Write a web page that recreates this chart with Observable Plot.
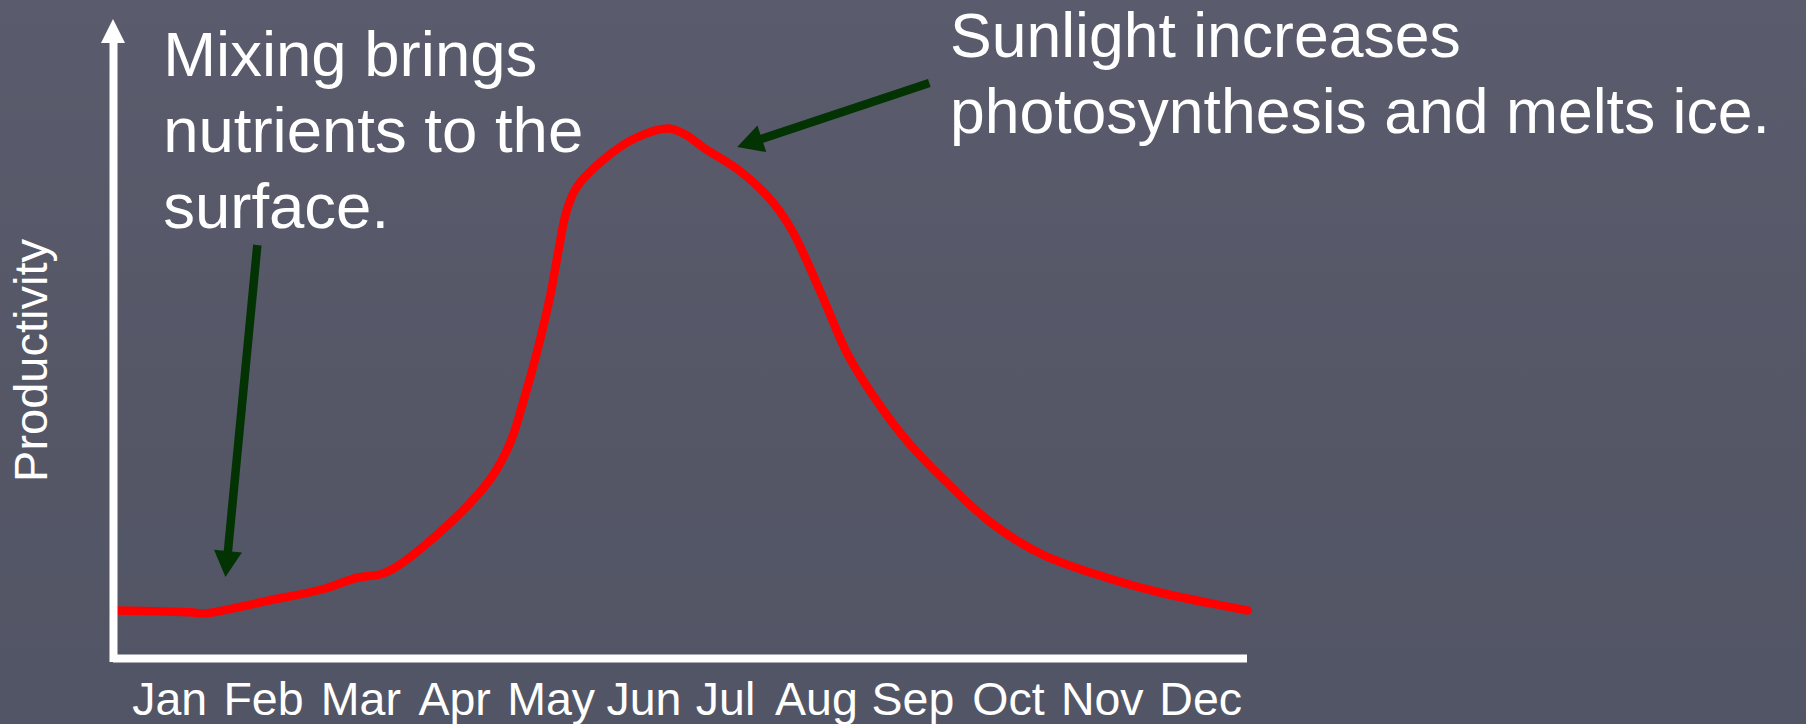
<!DOCTYPE html>
<html>
<head>
<meta charset="utf-8">
<script src="https://cdn.jsdelivr.net/npm/d3@7"></script>
<script src="https://cdn.jsdelivr.net/npm/@observablehq/plot@0.6"></script>
<style>
  html, body { margin: 0; padding: 0; width: 1806px; height: 724px; overflow: hidden;
    background: linear-gradient(180deg, #5a5b6c 0%, #555767 55%, #525565 100%); }
  #chart svg { display: block; }
</style>
</head>
<body>
<div id="chart"></div>
<script>
// ---- data ----
const months = ["Jan", "Feb", "Mar", "Apr", "May", "Jun", "Jul", "Aug", "Sep", "Oct", "Nov", "Dec"];
// where each month label sits along the axis (0 = Jan)
const monthPos = [0, 1.0, 2.04, 3.04, 4.07, 5.06, 5.93, 6.9, 7.93, 8.95, 9.95, 11.0];
const xExtent = [-0.6, 11.5];          // month-position extent of the axes
const yExtent = [0, 130];              // productivity (arbitrary units)

// productivity curve: position along the year (0 = Jan) and productivity
const curveX = [-0.6, 0.25, 0.36, 1.06, 1.62, 2.01, 2.24, 2.39, 2.72, 3.20, 3.44, 3.63, 3.77, 3.92,
  4.06, 4.15, 4.23, 4.34, 4.63, 4.96, 5.32, 5.50, 5.71, 6.09, 6.41, 6.64, 6.96, 7.24, 7.57, 7.89,
  8.27, 8.76, 9.31, 10.06, 10.61, 11.5];
const productivity = [9.6, 9.2, 9.0, 11.6, 13.8, 16.2, 16.8, 18.0, 22.6, 31.0, 36.4, 43.0, 51.2, 61.4,
  72.6, 81.8, 89.2, 94.2, 99.8, 104.0, 106.0, 104.8, 102.0, 97.4, 91.8, 85.6, 72.6, 60.6, 50.8, 43.0,
  35.6, 27.2, 20.8, 15.8, 13.0, 9.6];

// annotations
const noteText = ["Mixing brings\nnutrients to the\nsurface.", "Sunlight increases\nphotosynthesis and melts ice."];
const noteX = [-0.07, 8.325];
const noteY = [86.2, 105.2];
const noteSize = [63.5, 62.5];

// annotation arrows (from -> to), in month-position / productivity units
const arrowFromX = [0.94, 8.11];
const arrowFromY = [82.6, 115.0];
const arrowToX = [0.60, 6.06];
const arrowToY = [16.2, 102.2];

const yAxisTop = 127.8;
const yLabel = "Productivity";

// ---- chart ----
const curve = curveX.map((x, i) => ({x, y: productivity[i]}));
const notes = noteText.map((t, i) => ({t, x: noteX[i], y: noteY[i], s: noteSize[i]}));
const font = "'Liberation Sans', Arial, Helvetica, sans-serif";

const plot = Plot.plot({
  width: 1806,
  height: 724,
  marginLeft: 113,
  marginRight: 559,
  marginTop: 8,
  marginBottom: 66,
  style: {background: "transparent", color: "white", fontFamily: font, overflow: "visible"},
  x: {domain: xExtent},
  y: {domain: yExtent, axis: null},
  marks: [
    Plot.axisX(monthPos, {tickFormat: (p) => months[monthPos.indexOf(p)], tickSize: 0, tickPadding: 23,
      fontSize: 46.5, fill: "white", label: null}),
    Plot.line(curve, {x: "x", y: "y", stroke: "#ff0000", strokeWidth: 8.5,
      curve: "catmull-rom", strokeLinejoin: "round"}),
    Plot.ruleY([0], {x1: xExtent[0], x2: xExtent[1], stroke: "white", strokeWidth: 8}),
    Plot.ruleX([xExtent[0]], {y1: -0.8, y2: 123.5, stroke: "white", strokeWidth: 8}),
    ...notes.map((n) => Plot.text([n], {x: "x", y: "y", text: "t", textAnchor: "start", lineAnchor: "bottom",
      lineHeight: 76 / n.s, fontSize: n.s, fill: "white"})),
    Plot.text([yLabel], {x: -1.475, y: 59.6, text: (d) => d, rotate: -90, fontSize: 47, fill: "white"})
  ]
});

document.getElementById("chart").appendChild(plot);

// filled arrow heads + shafts, positioned through the plot's own scales
const sx = plot.scale("x"), sy = plot.scale("y");
const svg = d3.select(plot);
const g = svg.append("g");

function drawArrow(x1, y1, x2, y2, color, shaftW, headLen, headW, drawShaft) {
  const ax = sx.apply(x1), ay = sy.apply(y1), bx = sx.apply(x2), by = sy.apply(y2);
  const dx = bx - ax, dy = by - ay, L = Math.hypot(dx, dy);
  const ux = dx / L, uy = dy / L, nx = -uy, ny = ux;
  const cx = bx - ux * headLen, cy = by - uy * headLen;
  if (drawShaft) {
    g.append("line").attr("x1", ax).attr("y1", ay).attr("x2", cx + ux * 2).attr("y2", cy + uy * 2)
      .attr("stroke", color).attr("stroke-width", shaftW);
  }
  g.append("polygon")
    .attr("points", [[bx, by], [cx + nx * headW / 2, cy + ny * headW / 2], [cx - nx * headW / 2, cy - ny * headW / 2]].map(p => p.join(",")).join(" "))
    .attr("fill", color);
}

arrowFromX.forEach((x, i) => drawArrow(x, arrowFromY[i], arrowToX[i], arrowToY[i], "#033303", 8.5, 26, 28, true));
// y-axis arrow head
drawArrow(xExtent[0], 0, xExtent[0], yAxisTop, "white", 8, 24, 24, false);
</script>
</body>
</html>
